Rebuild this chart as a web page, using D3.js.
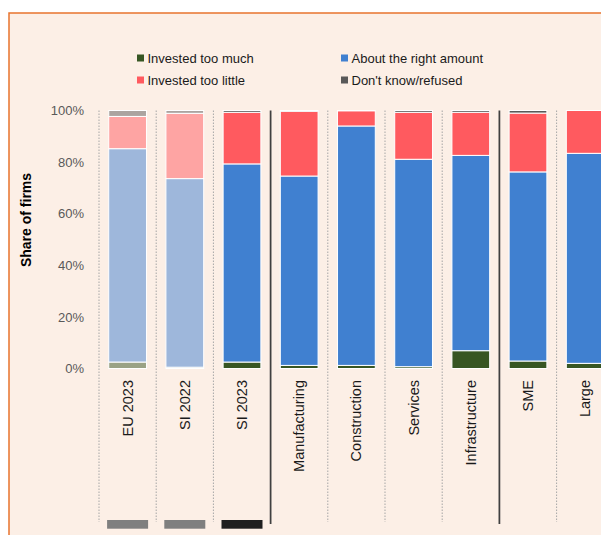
<!DOCTYPE html>
<html>
<head>
<meta charset="utf-8">
<script src="https://cdn.jsdelivr.net/npm/d3@7"></script>
<style>
  body { margin: 0; background: #fff; }
  svg { display: block; font-family: "Liberation Sans", Arial, sans-serif; }
</style>
</head>
<body>
<div id="chart"></div>
<script>
// values in % of firms
const categories = ["EU 2023", "SI 2022", "SI 2023", "Manufacturing", "Construction", "Services", "Infrastructure", "SME", "Large"];
const tooMuch     = [2.5, 0.5, 2.5, 1.2, 1.2, 0.7, 6.9, 2.9, 2.0];
const rightAmount = [82.7, 73.1, 76.8, 73.4, 92.8, 80.4, 75.7, 73.3, 81.4];
const tooLittle   = [12.5, 25.3, 20.0, 25.1, 5.9, 18.2, 16.7, 22.8, 16.6];
const dontKnow    = [2.3, 1.1, 0.7, 0.3, 0.1, 0.7, 0.7, 1.0, 0.0];
const faded = ["EU 2023", "SI 2022"];
const markers = [["EU 2023", "#7f7f7f"], ["SI 2022", "#7f7f7f"], ["SI 2023", "#1f1f1f"]];
const groupEnds = ["SI 2023", "Infrastructure"]; // solid line after these
const yTicks = [0, 0.2, 0.4, 0.6, 0.8, 1];

const seriesKeys = ["tooMuch", "rightAmount", "tooLittle", "dontKnow"];
const seriesNames = {tooMuch: "Invested too much", rightAmount: "About the right amount", tooLittle: "Invested too little", dontKnow: "Don't know/refused"};
const colors = {tooMuch: "#375623", rightAmount: "#4080d0", tooLittle: "#ff5a5f", dontKnow: "#595959"};

const createChart = () => {

    var width = 601, height = 535;

    var rows = categories.map((c, i) => ({
        cat: c,
        tooMuch: tooMuch[i] / 100,
        rightAmount: rightAmount[i] / 100,
        tooLittle: tooLittle[i] / 100,
        dontKnow: dontKnow[i] / 100
    }));

    var svg = d3.select("#chart").append("svg")
        .attr("width", width)
        .attr("height", height);

    // panel background with the orange frame (only top/left visible)
    svg.append("rect")
        .attr("x", 9).attr("y", 13)
        .attr("width", 700).attr("height", 700)
        .attr("fill", "#fcefe6")
        .attr("stroke", "#e8742e")
        .attr("stroke-width", 1.5);

    var x = d3.scaleBand()
        .domain(categories)
        .range([99, 99 + 57.2 * categories.length])
        .paddingInner(0.34)
        .paddingOuter(0.17);

    var y = d3.scaleLinear()
        .domain([0, 1])
        .range([368.5, 110.5]);

    // separators between categories
    var step = x.step();
    var bounds = categories.map(c => ({cat: c, pos: x(c) - x.paddingOuter() * step}));
    bounds.push({cat: null, pos: bounds[bounds.length - 1].pos + step});

    svg.append("g").selectAll("line")
        .data(bounds)
        .enter()
        .append("line")
        .attr("x1", d => d.pos).attr("x2", d => d.pos)
        .attr("y1", 110.5)
        .attr("y2", (d, i) => {
            var prev = i > 0 ? categories[i - 1] : null;
            return groupEnds.includes(prev) ? 524 : 522;
        })
        .attr("stroke", (d, i) => {
            var prev = i > 0 ? categories[i - 1] : null;
            return groupEnds.includes(prev) ? "#404040" : "#a6a6a6";
        })
        .attr("stroke-width", (d, i) => {
            var prev = i > 0 ? categories[i - 1] : null;
            return groupEnds.includes(prev) ? 1.75 : 1;
        })
        .attr("stroke-dasharray", (d, i) => {
            var prev = i > 0 ? categories[i - 1] : null;
            return groupEnds.includes(prev) ? null : "1.5,1.5";
        });

    // stacked bars
    var stacked = d3.stack().keys(seriesKeys)(rows);

    svg.append("g").selectAll("g")
        .data(stacked)
        .enter()
        .append("g")
        .attr("fill", d => colors[d.key])
        .selectAll("rect")
        .data(d => d)
        .enter()
        .append("rect")
        .attr("x", d => x(d.data.cat))
        .attr("width", x.bandwidth())
        .attr("y", d => y(d[1]))
        .attr("height", d => Math.max(0, y(d[0]) - y(d[1])))
        .attr("fill-opacity", d => faded.includes(d.data.cat) ? 0.5 : 1)
        .attr("stroke", "#fff")
        .attr("stroke-width", 1);

    // y axis labels
    var yAxis = svg.append("g")
        .attr("transform", "translate(84,0)")
        .call(d3.axisLeft(y).tickValues(yTicks).tickFormat(d3.format(".0%")).tickSize(0).tickPadding(0));
    yAxis.select(".domain").remove();
    yAxis.selectAll("text")
        .attr("font-family", "Liberation Sans, Arial, sans-serif")
        .attr("font-size", 13)
        .attr("fill", "#595959");

    svg.append("text")
        .attr("transform", "translate(31,220) rotate(-90)")
        .attr("text-anchor", "middle")
        .attr("font-size", 14)
        .attr("font-weight", "bold")
        .attr("fill", "#000")
        .text("Share of firms");

    // category labels, rotated
    svg.append("g").selectAll("text")
        .data(categories)
        .enter()
        .append("text")
        .attr("transform", d => "translate(" + (x(d) + x.bandwidth() / 2) + ",380) rotate(-90)")
        .attr("text-anchor", "end")
        .attr("dy", "0.35em")
        .attr("font-size", 14.5)
        .attr("fill", "#1a1a1a")
        .text(d => d);

    // little marker bars at the bottom
    svg.append("g").selectAll("rect")
        .data(markers)
        .enter()
        .append("rect")
        .attr("x", d => x(d[0]) + x.bandwidth() / 2 - 20.5)
        .attr("width", 41)
        .attr("y", 520)
        .attr("height", 8.7)
        .attr("fill", d => d[1]);

    // legend, two columns
    var legendPos = {
        tooMuch: [137, 58], rightAmount: [341, 58],
        tooLittle: [137, 80], dontKnow: [341, 80]
    };
    var legend = svg.append("g").selectAll("g")
        .data(seriesKeys)
        .enter()
        .append("g")
        .attr("transform", d => "translate(" + legendPos[d][0] + "," + legendPos[d][1] + ")");
    legend.append("rect")
        .attr("x", 0).attr("y", -3.5)
        .attr("width", 7).attr("height", 7)
        .attr("fill", d => colors[d]);
    legend.append("text")
        .attr("x", 10.5)
        .attr("dy", "0.35em")
        .attr("font-size", 13)
        .attr("fill", "#1a1a1a")
        .text(d => seriesNames[d]);
}

createChart();
</script>
</body>
</html>
